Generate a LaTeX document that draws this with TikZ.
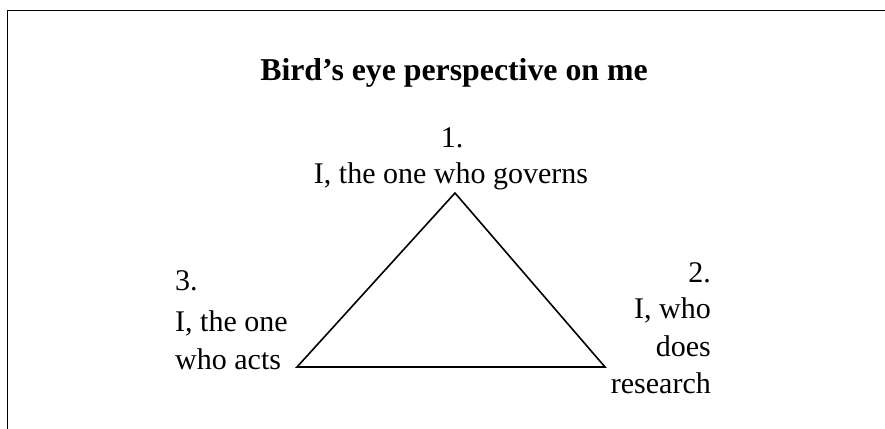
\documentclass[tikz,border=0pt]{standalone}
\usepackage{fontspec}
\setmainfont{Liberation Serif}
\begin{document}
\begin{tikzpicture}[x=1pt,y=-1pt,
  lbl/.style={inner sep=0pt,font=\fontsize{30}{36.5}\selectfont},
  ttl/.style={inner sep=0pt,font=\fontsize{31.8}{36}\selectfont\bfseries},
  edge/.style={line width=1.6pt,line join=miter}]
\useasboundingbox (0,0) rectangle (885,428);
\draw[line width=1.8pt] (7.5,440) -- (7.5,10.5) -- (900,10.5);
\node[ttl,anchor=base] (title) at (454,80) {Bird’s eye perspective on me};
\node[lbl,anchor=base] (n1a) at (452,147) {1.};
\node[lbl,anchor=base] (n1) at (451,183) {I, the one who governs};
\node[lbl,anchor=base west] (n3a) at (175,290) {3.};
\node[lbl,anchor=base west] (n3b) at (175,331) {I, the one};
\node[lbl,anchor=base west] (n3c) at (175,369) {who acts};
\node[lbl,anchor=base east] (n2a) at (711,282) {2.};
\node[lbl,anchor=base east] (n2b) at (711,318) {I, who};
\node[lbl,anchor=base east] (n2c) at (711,356) {does};
\node[lbl,anchor=base east] (n2d) at (711,393) {research};
\coordinate (top) at (455,193);
\coordinate (bl) at (297,367);
\coordinate (br) at (605,367);
\draw[edge] (top) -- (br) -- (bl) -- cycle;
\end{tikzpicture}
\end{document}
